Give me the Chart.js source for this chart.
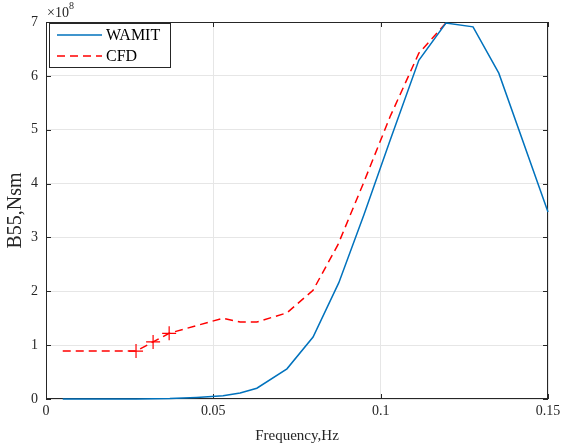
<!DOCTYPE html>
<html>
<head>
<meta charset="utf-8">
<script src="https://cdn.jsdelivr.net/npm/chart.js@4/dist/chart.umd.min.js"></script>
<style>
  html, body { margin: 0; padding: 0; background: #fff; }
  #wrap { width: 561px; height: 447px; position: relative; }
</style>
</head>
<body>
<div id="wrap"><canvas id="chart"></canvas></div>
<script>
// frequency (Hz) and damping B55 (x1e8 Nsm)
const wamitFreq = [0.005, 0.015, 0.027, 0.037, 0.045, 0.0529, 0.058, 0.063, 0.072, 0.0798, 0.0875, 0.095, 0.1028, 0.1114, 0.1195, 0.1276, 0.1353, 0.15]
const wamitB55 = [0, 0, 0, 0.01, 0.03, 0.06, 0.11, 0.2, 0.56, 1.15, 2.16, 3.42, 4.8, 6.29, 6.98, 6.91, 6.05, 3.47]

const cfdFreq = [0.005, 0.0269, 0.032, 0.0368, 0.0529, 0.058, 0.063, 0.072, 0.0798, 0.0872, 0.095, 0.1028, 0.1114, 0.1195]
const cfdB55 = [0.89, 0.89, 1.06, 1.22, 1.5, 1.43, 1.43, 1.6, 2.02, 2.86, 4.03, 5.24, 6.42, 6.98]
const cfdMarked = [1, 2, 3]

const xTicks = [0, 0.05, 0.1, 0.15]
const yTicks = [0, 1, 2, 3, 4, 5, 6, 7]

const serif = '"Liberation Serif", "Times New Roman", serif'
const axisColor = '#262626'

function toPoints( xs, ys ) {
  return xs.map( ( x, i ) => ( { x: x, y: ys[i] } ) )
}

// box, inward ticks, exponent label and legend, the MATLAB way
const matlabFrame = {
  id: 'matlabFrame',
  beforeDatasetsDraw( chart ) {
    const ctx = chart.ctx
    const a = chart.chartArea
    const xs = chart.scales.x
    const ys = chart.scales.y
    ctx.save()
    ctx.strokeStyle = axisColor
    ctx.lineWidth = 1
    ctx.strokeRect( a.left + 0.5, a.top + 0.5, a.right - a.left - 1, a.bottom - a.top - 1 )
    ctx.beginPath()
    xTicks.forEach( ( t ) => {
      const px = Math.round( xs.getPixelForValue( t ) ) + 0.5
      ctx.moveTo( px, a.bottom ); ctx.lineTo( px, a.bottom - 5 )
      ctx.moveTo( px, a.top ); ctx.lineTo( px, a.top + 5 )
    } )
    yTicks.forEach( ( t ) => {
      const py = Math.round( ys.getPixelForValue( t ) ) + 0.5
      ctx.moveTo( a.left, py ); ctx.lineTo( a.left + 5, py )
      ctx.moveTo( a.right, py ); ctx.lineTo( a.right - 5, py )
    } )
    ctx.stroke()

    // x10^8
    ctx.fillStyle = axisColor
    ctx.textBaseline = 'alphabetic'
    ctx.textAlign = 'left'
    ctx.font = '14px ' + serif
    ctx.fillText( '\u00d710', 47, 17 )
    ctx.font = '10px ' + serif
    ctx.fillText( '8', 69, 9 )
    ctx.restore()
  },
  afterDraw( chart ) {
    const ctx = chart.ctx
    ctx.save()
    const lx = 49, ly = 23, lw = 121, lh = 44
    ctx.fillStyle = '#fff'
    ctx.fillRect( lx, ly, lw, lh )
    ctx.strokeStyle = axisColor
    ctx.lineWidth = 1
    ctx.strokeRect( lx + 0.5, ly + 0.5, lw, lh )
    chart.data.datasets.forEach( ( ds, i ) => {
      const yy = ly + 12 + i * 21
      ctx.beginPath()
      ctx.strokeStyle = ds.borderColor
      ctx.lineWidth = 1.5
      ctx.setLineDash( ds.borderDash || [] )
      ctx.moveTo( lx + 8, yy ); ctx.lineTo( lx + 53, yy )
      ctx.stroke()
      ctx.setLineDash( [] )
      ctx.fillStyle = '#000'
      ctx.font = '16px ' + serif
      ctx.textBaseline = 'middle'
      ctx.fillText( ds.label, lx + 57, yy + 1 )
    } )
    ctx.restore()
  }
}

const ctx = document.getElementById( 'chart' ).getContext( '2d' )

new Chart( ctx, {
  type: 'line',
  data: {
    datasets: [
      {
        label: 'WAMIT',
        data: toPoints( wamitFreq, wamitB55 ),
        borderColor: '#0072BD',
        borderWidth: 1.5,
        pointRadius: 0,
        tension: 0,
        clip: 4,
      },
      {
        label: 'CFD',
        data: toPoints( cfdFreq, cfdB55 ),
        borderColor: '#FF0000',
        borderWidth: 1.5,
        borderDash: [8, 5],
        pointStyle: 'cross',
        pointRadius: cfdFreq.map( ( f, i ) => cfdMarked.includes( i ) ? 7 : 0 ),
        pointBorderColor: '#FF0000',
        pointBorderWidth: 1.2,
        tension: 0,
        clip: 4,
      },
    ],
  },
  options: {
    responsive: true,
    maintainAspectRatio: false,
    animation: false,
    layout: { padding: { top: 22, right: 13, left: 0, bottom: 0 } },
    plugins: {
      legend: { display: false },
      tooltip: { enabled: false },
    },
    scales: {
      x: {
        type: 'linear',
        min: 0,
        max: 0.15,
        afterBuildTicks: ( s ) => { s.ticks = xTicks.map( ( v ) => ( { value: v } ) ) },
        afterFit: ( s ) => { s.height = 48; s.paddingLeft = 0; s.paddingRight = 0 },
        ticks: {
          color: axisColor,
          font: { family: serif, size: 14 },
          padding: 4,
          maxRotation: 0,
          callback: ( v ) => String( v ),
        },
        grid: { color: '#e6e6e6', drawTicks: false, tickLength: 0 },
        border: { display: false },
        title: {
          display: true,
          text: 'Frequency,Hz',
          color: axisColor,
          font: { family: serif, size: 15 },
          padding: { top: 0, bottom: 2 },
        },
      },
      y: {
        type: 'linear',
        min: 0,
        max: 7,
        afterBuildTicks: ( s ) => { s.ticks = yTicks.map( ( v ) => ( { value: v } ) ) },
        afterFit: ( s ) => { s.width = 46; s.paddingTop = 0; s.paddingBottom = 0 },
        ticks: {
          color: axisColor,
          font: { family: serif, size: 14 },
          padding: 8,
        },
        grid: { color: '#e6e6e6', drawTicks: false, tickLength: 0 },
        border: { display: false },
        title: {
          display: true,
          text: 'B55,Nsm',
          color: axisColor,
          font: { family: serif, size: 20 },
          padding: { top: 4, bottom: 0 },
        },
      },
    },
  },
  plugins: [matlabFrame],
} )
</script>
</body>
</html>
